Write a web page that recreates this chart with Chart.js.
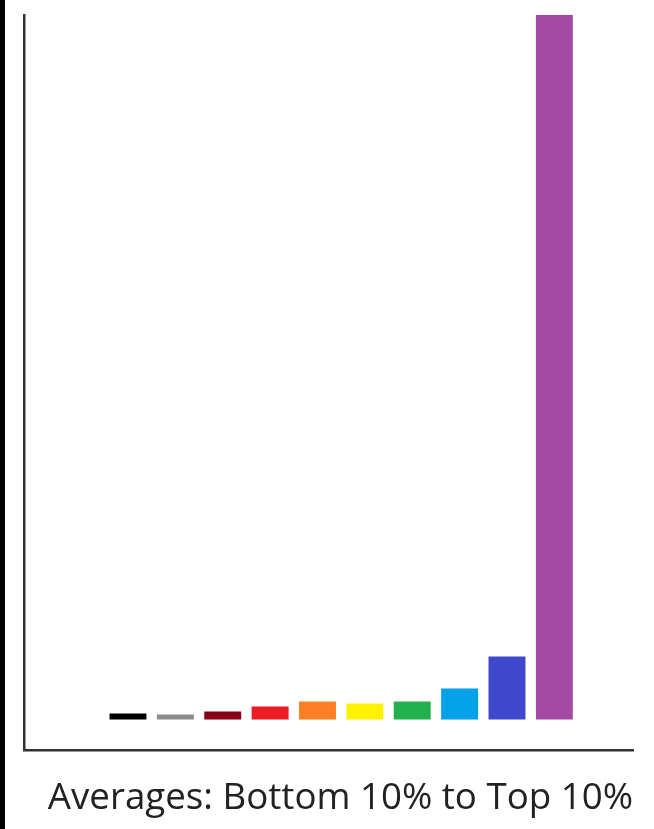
<!DOCTYPE html>
<html>
<head>
<meta charset="utf-8">
<title>Averages</title>
<script src="https://cdn.jsdelivr.net/npm/chart.js@4"></script>
<style>
    body { margin: 0; background: #ffffff; }
    #wrap { position: relative; width: 654px; height: 829px; }
    #edge { position: absolute; left: 0; top: 0; width: 5px; height: 829px; background: #000000; }
</style>
</head>
<body>
<div id="wrap">
    <canvas id="myChart" width="654" height="829"></canvas>
    <div id="edge"></div>
</div>
<script>
// one bar per tenth, bottom 10% to top 10%
let groups = ['Bottom 10%', '10-20%', '20-30%', '30-40%', '40-50%', '50-60%', '60-70%', '70-80%', '80-90%', 'Top 10%'];
// no scale shown so units are arbitrary
let averages = [6, 5, 8, 13, 18, 16, 18, 31, 63, 704];
let barColors = ['#000000', '#8c8c8c', '#880015', '#ed1c24', '#ff7f27', '#fff200', '#22b14c', '#00a2e8', '#3f48cc', '#a349a4'];
let chartTitle = 'Averages: Bottom 10% to Top 10%';

function draw_chart() {
    let points = [];
    for (let i = 0; i < averages.length; i++) {
        points.push({ x: i, y: averages[i] });
    }
    var ctx = document.getElementById('myChart');
    var chart = new Chart(ctx, {
        type: 'bar',
        data: {
            datasets: [
                {
                    label: 'Average',
                    data: points,
                    backgroundColor: barColors,
                    borderWidth: 0,
                    categoryPercentage: 1,
                    barPercentage: 0.78,
                },
            ]
        },
        options: {
            responsive: false,
            animation: false,
            layout: { padding: { left: 24, right: 21, top: 15, bottom: 0 } },
            scales: {
                x: {
                    type: 'linear',
                    offset: false,
                    min: -2.195,
                    max: 10.66,
                    grid: { display: false, drawTicks: false },
                    ticks: { display: false },
                    border: { display: true, color: '#333333', width: 2.5 }
                },
                y: {
                    min: -30.5,
                    max: 704,
                    grid: { display: false, drawTicks: false },
                    ticks: { display: false },
                    border: { display: true, color: '#333333', width: 2.5 }
                }
            },
            plugins: {
                legend: { display: false },
                tooltip: {
                    callbacks: { title: (items) => groups[items[0].parsed.x] }
                },
                title: {
                    display: true,
                    position: 'bottom',
                    align: 'end',
                    text: chartTitle,
                    color: '#222222',
                    font: { family: 'Open Sans', size: 36.7, weight: 'normal', lineHeight: 1.2 },
                    padding: { top: 27, bottom: 8 }
                }
            },
        }
    });
}
draw_chart();
</script>
</body>
</html>
